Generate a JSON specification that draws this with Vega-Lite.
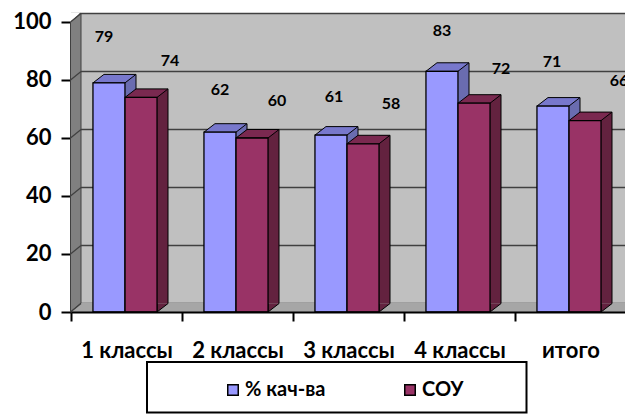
{"$schema":"https://vega.github.io/schema/vega-lite/v6.json","width":555,"height":299,"autosize":{"type":"none"},"padding":{"left":71,"top":13,"right":0,"bottom":102},"background":"white","view":{"fill":"#c0c0c0","stroke":null},"config":{"font":"Lato","text":{"font":"Lato"}},"datasets":{"t":[{"category":"1 классы","series":"% кач-ва","value":79},{"category":"1 классы","series":"СОУ","value":74},{"category":"2 классы","series":"% кач-ва","value":62},{"category":"2 классы","series":"СОУ","value":60},{"category":"3 классы","series":"% кач-ва","value":61},{"category":"3 классы","series":"СОУ","value":58},{"category":"4 классы","series":"% кач-ва","value":83},{"category":"4 классы","series":"СОУ","value":72},{"category":"итого","series":"% кач-ва","value":71},{"category":"итого","series":"СОУ","value":66}],"g":[{"tick":0},{"tick":20},{"tick":40},{"tick":60},{"tick":80},{"tick":100}],"one":[{"k":"a"}]},"encoding":{"x":{"field":"category","type":"nominal","sort":null,"scale":{"paddingInner":0,"paddingOuter":0,"domain":["1 классы","2 классы","3 классы","4 классы","итого"]},"axis":{"title":null,"labelAngle":0,"labelFont":"Lato","labelFontWeight":"bold","labelFontSize":22,"labelColor":"black","labelPadding":19,"tickBand":"extent","tickColor":"black","tickWidth":2,"tickSize":9,"domainColor":"black","domainWidth":2,"zindex":1,"grid":false}}},"layer":[{"data":{"name":"g"},"mark":{"type":"rule","stroke":"#404040","strokeWidth":1.3,"yOffset":-8.5,"y2Offset":-8.5},"encoding":{"x":null,"y":{"field":"tick","type":"quantitative","scale":{"domain":[0,103.1],"nice":false},"axis":{"title":null,"values":[0,20,40,60,80,100],"domain":false,"grid":false,"labelFont":"Lato","labelFontWeight":"bold","labelFontSize":22,"labelColor":"black","labelPadding":10,"tickColor":"black","tickWidth":2,"tickSize":10}}}},{"data":{"name":"one"},"mark":{"type":"point","filled":true,"opacity":1,"size":4,"fill":"#a6a6a6","strokeWidth":0,"shape":"M-55.5,0 L-45,-9 L500,-9 L500,0 Z"},"encoding":{"x":{"datum":"1 классы"},"y":{"datum":0}}},{"data":{"name":"one"},"mark":{"type":"point","filled":true,"opacity":1,"size":4,"fill":"#808080","stroke":"#404040","strokeWidth":1,"shape":"M-56,0 L-45.5,-9 L-45.5,-299 L-56,-290 Z"},"encoding":{"x":{"datum":"1 классы"},"y":{"datum":0}}},{"data":{"name":"one"},"mark":{"type":"point","filled":true,"opacity":1,"size":4,"fill":"white","strokeWidth":0,"shape":"M-56.5,-290 L-46,-299.5 L-56.5,-299.5 Z"},"encoding":{"x":{"datum":"1 классы"},"y":{"datum":0}}},{"data":{"name":"g"},"mark":{"type":"point","filled":false,"opacity":1,"size":4,"stroke":"#404040","strokeWidth":1.3,"shape":"M-56,0 L-45.5,-8.5"},"encoding":{"x":{"datum":"1 классы"},"y":{"field":"tick","type":"quantitative"}}},{"data":{"name":"t"},"transform":[{"filter":"datum.series==='% кач-ва'"}],"mark":{"type":"bar","width":11,"xOffset":4,"x2Offset":4,"yOffset":-8.5,"y2Offset":-8.5,"fill":"#6a6cb0","stroke":null},"encoding":{"y":{"field":"value","type":"quantitative"}}},{"data":{"name":"t"},"transform":[{"filter":"datum.series==='СОУ'"}],"mark":{"type":"bar","width":11,"xOffset":36,"x2Offset":36,"yOffset":-8.5,"y2Offset":-8.5,"fill":"#63223f","stroke":null},"encoding":{"y":{"field":"value","type":"quantitative"}}},{"data":{"name":"t"},"transform":[{"filter":"datum.series==='% кач-ва'"}],"mark":{"type":"rule","stroke":"black","strokeWidth":1,"xOffset":9.5,"yOffset":-8.5,"y2Offset":-8.5},"encoding":{"y":{"field":"value","type":"quantitative"},"y2":{"datum":0}}},{"data":{"name":"t"},"transform":[{"filter":"datum.series==='СОУ'"}],"mark":{"type":"rule","stroke":"black","strokeWidth":1,"xOffset":41.5,"yOffset":-8.5,"y2Offset":-8.5},"encoding":{"y":{"field":"value","type":"quantitative"},"y2":{"datum":0}}},{"data":{"name":"t"},"mark":{"type":"point","filled":true,"opacity":1,"size":4,"stroke":"black","strokeWidth":1,"shape":"M16,-8.5 L16,0 L27,-8.5"},"encoding":{"xOffset":{"field":"series","sort":null,"scale":{"paddingInner":0,"paddingOuter":0.73,"align":0.468}},"y":{"datum":0},"fill":{"condition":{"test":"datum.series==='СОУ'","value":"#63223f"},"value":"#6a6cb0"}}},{"data":{"name":"t"},"mark":{"type":"point","filled":true,"opacity":1,"size":4,"stroke":"black","strokeWidth":1,"shape":"M-16,0 L16,0 L27,-8.5 L-5,-8.5 Z"},"encoding":{"xOffset":{"field":"series","sort":null},"y":{"field":"value","type":"quantitative"},"fill":{"condition":{"test":"datum.series==='СОУ'","value":"#7a2950"},"value":"#7878cc"}}},{"data":{"name":"t"},"mark":{"type":"bar","width":32,"stroke":"black","strokeWidth":1.3},"encoding":{"xOffset":{"field":"series","sort":null},"y":{"field":"value","type":"quantitative"},"color":{"field":"series","type":"nominal","sort":null,"scale":{"domain":["% кач-ва","СОУ"],"range":["#9999ff","#993366"]},"legend":{"title":null,"orient":"none","legendX":152,"legendY":367,"direction":"horizontal","columns":2,"columnPadding":74,"symbolType":"square","symbolSize":110,"symbolStrokeColor":"black","symbolStrokeWidth":1.5,"symbolOpacity":1,"labelFont":"Lato","labelFontWeight":"bold","labelFontSize":20,"labelColor":"black","labelOffset":2,"zindex":2}}}},{"data":{"name":"t"},"transform":[{"filter":"datum.category==='1 классы'&&datum.series==='% кач-ва'"}],"mark":{"type":"text","font":"Lato","fontWeight":"bold","fontSize":16,"fill":"black","dx":-5,"dy":-46},"encoding":{"xOffset":{"field":"series","sort":null},"y":{"field":"value","type":"quantitative"},"text":{"field":"value"}}},{"data":{"name":"t"},"transform":[{"filter":"datum.category==='1 классы'&&datum.series==='СОУ'"}],"mark":{"type":"text","font":"Lato","fontWeight":"bold","fontSize":16,"fill":"black","dx":29,"dy":-36},"encoding":{"xOffset":{"field":"series","sort":null},"y":{"field":"value","type":"quantitative"},"text":{"field":"value"}}},{"data":{"name":"t"},"transform":[{"filter":"datum.category==='2 классы'&&datum.series==='% кач-ва'"}],"mark":{"type":"text","font":"Lato","fontWeight":"bold","fontSize":16,"fill":"black","dx":0,"dy":-42},"encoding":{"xOffset":{"field":"series","sort":null},"y":{"field":"value","type":"quantitative"},"text":{"field":"value"}}},{"data":{"name":"t"},"transform":[{"filter":"datum.category==='2 классы'&&datum.series==='СОУ'"}],"mark":{"type":"text","font":"Lato","fontWeight":"bold","fontSize":16,"fill":"black","dx":25,"dy":-37},"encoding":{"xOffset":{"field":"series","sort":null},"y":{"field":"value","type":"quantitative"},"text":{"field":"value"}}},{"data":{"name":"t"},"transform":[{"filter":"datum.category==='3 классы'&&datum.series==='% кач-ва'"}],"mark":{"type":"text","font":"Lato","fontWeight":"bold","fontSize":16,"fill":"black","dx":3,"dy":-38},"encoding":{"xOffset":{"field":"series","sort":null},"y":{"field":"value","type":"quantitative"},"text":{"field":"value"}}},{"data":{"name":"t"},"transform":[{"filter":"datum.category==='3 классы'&&datum.series==='СОУ'"}],"mark":{"type":"text","font":"Lato","fontWeight":"bold","fontSize":16,"fill":"black","dx":28,"dy":-40},"encoding":{"xOffset":{"field":"series","sort":null},"y":{"field":"value","type":"quantitative"},"text":{"field":"value"}}},{"data":{"name":"t"},"transform":[{"filter":"datum.category==='4 классы'&&datum.series==='% кач-ва'"}],"mark":{"type":"text","font":"Lato","fontWeight":"bold","fontSize":16,"fill":"black","dx":0,"dy":-40},"encoding":{"xOffset":{"field":"series","sort":null},"y":{"field":"value","type":"quantitative"},"text":{"field":"value"}}},{"data":{"name":"t"},"transform":[{"filter":"datum.category==='4 классы'&&datum.series==='СОУ'"}],"mark":{"type":"text","font":"Lato","fontWeight":"bold","fontSize":16,"fill":"black","dx":27,"dy":-34},"encoding":{"xOffset":{"field":"series","sort":null},"y":{"field":"value","type":"quantitative"},"text":{"field":"value"}}},{"data":{"name":"t"},"transform":[{"filter":"datum.category==='итого'&&datum.series==='% кач-ва'"}],"mark":{"type":"text","font":"Lato","fontWeight":"bold","fontSize":16,"fill":"black","dx":-1,"dy":-44},"encoding":{"xOffset":{"field":"series","sort":null},"y":{"field":"value","type":"quantitative"},"text":{"field":"value"}}},{"data":{"name":"t"},"transform":[{"filter":"datum.category==='итого'&&datum.series==='СОУ'"}],"mark":{"type":"text","font":"Lato","fontWeight":"bold","fontSize":16,"fill":"black","dx":34,"dy":-40},"encoding":{"xOffset":{"field":"series","sort":null},"y":{"field":"value","type":"quantitative"},"text":{"field":"value"}}},{"data":{"name":"one"},"mark":{"type":"point","filled":false,"opacity":1,"size":4,"stroke":"black","strokeWidth":2,"clip":false,"shape":"M-201.5,50 L178,50 L178,100.5 L-201.5,100.5 Z"},"encoding":{"x":{"datum":"3 классы"},"y":{"datum":0}}}]}
